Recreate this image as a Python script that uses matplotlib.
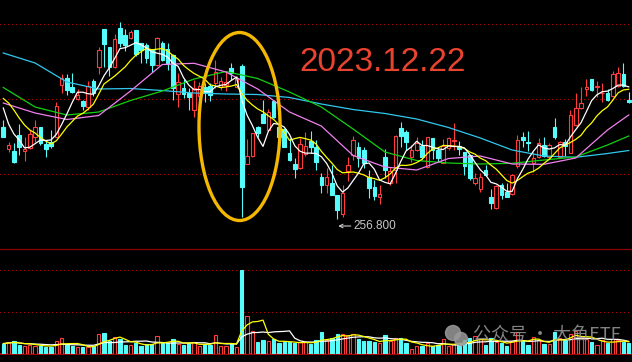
import matplotlib
matplotlib.use('Agg')
import numpy as np
import pandas as pd
import matplotlib.pyplot as plt
from matplotlib.patches import Ellipse
from matplotlib.transforms import offset_copy

# Dagsdata lest av fra bildet (omtrentlige verdier)
opens = [349.1, 326.8, 325.1, 340.8, 325.1, 327.5, 339.1, 348.5, 331.8, 334.1,
         339.1, 390.8, 397.5, 388.5, 376.5, 375.1, 368.5, 395.1, 409.1, 446.5,
         429.1, 408.5, 447.5, 440.8, 437.5, 445.8, 432.5, 430.8, 425.8, 410.8,
         432.5, 426.5, 420.8, 381.8, 387.5, 383.1, 365.8, 379.8, 388.5, 389.8,
         392.5, 389.1, 390.8, 407.5, 389.1, 409.8, 311.8, 319.8, 348.5, 361.8,
         345.8, 375.1, 349.1, 346.5, 322.8, 311.8, 307.8, 321.8, 335.1, 329.1,
         298.5, 290.8, 293.1, 280.8, 261.8, 305.1, 320.8, 329.1, 325.8, 299.1,
         289.1, 278.5, 318.5, 292.5, 305.8, 347.5, 344.1, 318.5, 325.8, 329.8,
         309.1, 337.5, 325.8, 313.1, 327.5, 335.1, 329.8, 324.1, 320.8, 293.1,
         286.5, 305.8, 279.1, 267.5, 290.8, 284.1, 281.8, 309.8, 338.5, 334.1,
         312.5, 319.1, 330.8, 319.1, 348.5, 319.1, 334.1, 323.1, 350.8, 367.5,
         386.5, 396.5, 389.1, 382.5, 383.1, 379.8, 389.8, 401.8, 375.8]
highs = [355.8, 334.1, 333.1, 351.8, 339.1, 345.8, 355.8, 349.1, 335.8, 345.8,
         374.1, 401.8, 401.8, 402.5, 386.5, 375.8, 395.1, 396.5, 429.1, 446.5,
         429.1, 441.8, 454.1, 446.5, 445.8, 445.8, 433.1, 432.5, 426.5, 438.5,
         435.1, 432.5, 421.8, 403.1, 396.5, 387.5, 395.8, 393.8, 393.1, 393.1,
         415.8, 399.1, 404.1, 412.5, 399.8, 411.8, 336.5, 343.1, 349.8, 375.8,
         366.5, 375.8, 353.8, 347.5, 337.8, 317.8, 337.8, 344.1, 345.1, 335.8,
         302.5, 307.8, 310.8, 280.8, 290.8, 318.8, 339.8, 334.1, 328.8, 305.8,
         295.8, 290.8, 326.8, 309.1, 340.8, 354.1, 345.8, 330.8, 339.1, 335.8,
         339.1, 337.5, 328.5, 336.5, 338.5, 352.5, 335.1, 324.1, 320.8, 302.5,
         302.5, 310.8, 286.5, 290.8, 293.1, 293.1, 301.8, 340.8, 344.1, 344.8,
         324.1, 337.5, 338.5, 332.5, 357.5, 335.1, 336.5, 365.8, 382.5, 388.5,
         396.5, 396.5, 395.1, 393.1, 386.5, 405.1, 409.1, 412.5, 384.1]
lows = [338.5, 324.1, 313.1, 320.8, 315.1, 326.5, 334.1, 330.8, 318.5, 327.5,
        338.5, 383.1, 380.8, 383.1, 375.8, 365.8, 365.8, 379.8, 401.8, 408.8,
        399.8, 407.5, 429.1, 425.1, 436.5, 419.8, 412.5, 412.5, 404.1, 409.8,
        415.1, 405.8, 375.8, 369.1, 377.5, 365.8, 359.1, 375.8, 374.1, 375.1,
        387.5, 385.8, 385.1, 395.8, 387.5, 258.8, 311.8, 319.1, 338.5, 352.5,
        345.1, 357.5, 335.8, 328.5, 314.8, 297.8, 306.5, 319.8, 323.1, 305.8,
        283.1, 282.5, 280.8, 256.8, 258.8, 294.8, 315.8, 309.1, 307.5, 277.8,
        275.8, 271.8, 297.8, 290.8, 292.5, 329.1, 325.8, 314.1, 325.1, 316.5,
        307.5, 316.5, 314.1, 312.5, 325.8, 325.8, 320.8, 300.8, 295.8, 290.8,
        284.1, 299.8, 266.5, 266.5, 276.5, 278.5, 280.8, 307.8, 329.1, 325.1,
        304.1, 317.5, 318.5, 317.5, 336.5, 318.5, 319.8, 322.5, 349.8, 366.5,
        379.8, 385.1, 379.1, 374.1, 375.1, 379.1, 388.5, 388.5, 373.1]
closes = [338.5, 330.8, 314.1, 329.1, 327.1, 341.8, 348.5, 332.5, 326.5, 329.8,
          369.8, 397.5, 385.8, 384.1, 380.8, 369.8, 389.8, 383.1, 425.8, 431.8,
          409.1, 436.5, 432.5, 430.8, 443.8, 421.8, 425.8, 417.5, 410.8, 437.5,
          415.8, 411.8, 387.5, 394.1, 381.8, 378.5, 387.8, 389.8, 382.5, 380.8,
          404.1, 395.1, 394.1, 402.5, 397.5, 289.1, 319.8, 342.5, 343.1, 352.5,
          364.1, 359.1, 339.1, 329.1, 315.8, 306.8, 331.8, 329.8, 329.1, 314.1,
          290.8, 298.5, 280.8, 265.8, 282.8, 310.8, 335.8, 317.5, 312.5, 287.5,
          279.8, 281.8, 305.8, 305.1, 339.8, 339.8, 334.1, 325.8, 333.1, 319.1,
          339.1, 325.8, 317.5, 329.8, 337.5, 335.8, 326.5, 309.8, 297.5, 297.5,
          299.1, 300.8, 272.5, 289.8, 280.8, 278.5, 300.8, 335.8, 335.8, 332.5,
          317.5, 333.1, 319.8, 330.8, 338.5, 334.1, 329.8, 360.8, 367.5, 373.1,
          388.8, 385.8, 389.8, 383.1, 375.8, 401.8, 403.1, 389.8, 374.1]
volumes = [10.7, 12, 13, 9.7, 8, 9.7, 8.7, 8.7, 7, 7,
           13, 16, 9.7, 8, 7, 7, 7.3, 8, 20, 21,
           13, 17, 15, 9, 9, 11, 8, 10, 10, 18,
           11, 11, 15, 10, 9, 11, 12, 8, 10, 9,
           19, 8, 8, 10, 7, 84, 38, 23, 12, 14,
           13, 15, 11, 12, 12, 11, 12, 12, 10.7, 14,
           22, 14.7, 16, 20, 20.7, 19.7, 20.7, 15, 13, 13,
           12, 11, 19, 13, 16.7, 16, 11, 5, 8, 8,
           11, 8, 9, 15, 8, 10, 10.7, 14, 16, 18,
           15, 9, 16, 12, 11, 8, 13, 22, 14, 9,
           17, 14, 10, 10, 22, 16, 14, 20, 23, 16,
           15, 12, 9, 14, 11, 15, 14, 12, 11]

# Glidende snitt som starter før det synlige vinduet, lest av bildet
ma5_head = [367.8, 351.8, 341.8, 335.8]
ma10_head = [377.3, 372.8, 365.8, 357.8, 350.8, 345.8, 342.8, 338.3, 334.8]
ma_idx = [0, 6, 12, 18, 24, 30, 36, 42, 48, 54, 60, 66, 72, 78, 84, 90, 96, 102, 108, 114, 118]
ma20 = [372.8, 362.8, 356.3, 360.3, 384.8, 411.3, 412.5, 403.8, 386.8, 363.8, 349.8,
        320.3, 308.8, 305.8, 317.3, 319.8, 311.8, 311.5, 317.8, 345.8, 360.8]
ma30 = [388.3, 368.8, 360.8, 363.8, 375.3, 384.8, 396.8, 404.3, 397.3, 383.8, 368.8,
        346.8, 323.8, 315.3, 312.8, 311.8, 312.5, 315.8, 318.8, 330.8, 339.8]
ma60 = [422.8, 412.8, 393.8, 386.8, 387.3, 385.3, 382.8, 381.8, 381.3, 378.3, 371.8,
        366.3, 362.3, 356.8, 348.3, 337.8, 325.8, 319.8, 318.5, 322.3, 325.3]

price_grid = [451.5, 376.5, 301.5]
vol_grid = [42, 84]
date_label = "2023.12.22"

RED = '#FF3C3C'
CYAN = '#54FCFC'
GRID = '#B00000'

o = np.array(opens)
h = np.array(highs)
l = np.array(lows)
c = np.array(closes)
v = np.array(volumes)
x = np.arange(len(c))
up = c >= o

ma5 = pd.Series(c).rolling(5).mean().values
ma5[:len(ma5_head)] = ma5_head
ma10 = pd.Series(c).rolling(10).mean().values
ma10[:len(ma10_head)] = ma10_head
vma5 = pd.Series(v).rolling(5, min_periods=1).mean().values
vma10 = pd.Series(v).rolling(10, min_periods=1).mean().values

fig = plt.figure(figsize=(6.32, 3.62), dpi=100, facecolor='black')
ax1 = fig.add_axes([0, 0.3113, 1, 0.6887], facecolor='black')
ax2 = fig.add_axes([0, 0.0213, 1, 0.29], facecolor='black')
xlim = (-0.623, 118.62)

# Kursvindu
for y in price_grid:
    ax1.axhline(y, color=GRID, lw=0.72, ls=(0, (1, 3)), antialiased=False, zorder=1)
ax1.vlines(x, l, h, colors=np.where(up, RED, CYAN), lw=0.8, zorder=2)
ax1.bar(x, np.maximum(np.abs(c - o), 0.8), bottom=np.minimum(o, c), width=0.68,
        color=np.where(up, 'black', CYAN), edgecolor=np.where(up, RED, CYAN),
        linewidth=0.8, zorder=3)
ax1.plot(ma_idx, ma60, color='#30C8EE', lw=0.9, zorder=4)
ax1.plot(ma_idx, ma30, color='#10D010', lw=0.9, zorder=4)
ax1.plot(ma_idx, ma20, color='#F080F0', lw=0.9, zorder=4)
ax1.plot(x, ma10, color='#FFFF00', lw=0.9, zorder=4)
ax1.plot(x, ma5, color='white', lw=0.9, zorder=4)

low_i = int(np.argmin(l))
tr = offset_copy(ax1.transData, fig=fig, x=1, y=-7, units='dots')
ax1.annotate(f'{l[low_i]:.3f}', xy=(x[low_i], l[low_i]), xycoords=tr,
             xytext=(11, 0), textcoords='offset points', va='center', ha='left',
             color='#C8C8C8', fontsize=8.5, family='Liberation Sans',
             arrowprops=dict(arrowstyle='->,head_length=0.3,head_width=0.15',
                             color='#C8C8C8', lw=0.8, shrinkA=0, shrinkB=0))

ax1.add_patch(Ellipse((44.57, 349.3), 15.3, 188, fill=False, edgecolor='#F5B800',
                      lw=2.4, zorder=6))
ax1.text(0.605, 0.751, date_label, transform=ax1.transAxes, ha='center', va='center',
         color='#E8432E', fontsize=24, family='Liberation Sans', zorder=7)

ax1.set_xlim(*xlim)
ax1.set_ylim(226.5, 475.8)
ax1.set_axis_off()

# Volumvindu
for y in vol_grid:
    ax2.axhline(y, color=GRID, lw=0.72, ls=(0, (1, 3)), antialiased=False, zorder=1)
ax2.bar(x, v, width=0.62, color=np.where(up, 'black', CYAN),
        edgecolor=np.where(up, RED, CYAN), linewidth=0.8, zorder=3)
ax2.plot(x, vma10, color='white', lw=0.9, zorder=4)
ax2.plot(x, vma5, color='#FFFF00', lw=0.9, zorder=4)
ax2.set_xlim(*xlim)
ax2.set_ylim(0, 105)
ax2.set_xticks([])
ax2.set_yticks([])
for side in ['left', 'right']:
    ax2.spines[side].set_visible(False)
ax2.spines['top'].set_color('#8B0000')
ax2.spines['top'].set_linewidth(0.9)
ax2.spines['bottom'].set_color('#C00000')
ax2.spines['bottom'].set_linewidth(1.2)

# Vannmerke
W, H = 632, 362
for cx, cy, r in [(453, 333, 7.5), (461, 339, 6.5)]:
    fig.add_artist(Ellipse((cx / W, 1 - cy / H), 2 * r / W, 2 * r / H,
                           transform=fig.transFigure, color='#9A9A9A', alpha=0.85,
                           zorder=10))
fig.text(473 / W, 1 - 336 / H, '公众号 · 大鱼ETF', ha='left', va='center',
         color='#9A9A9A', alpha=0.85, fontsize=13,
         family=['Noto Sans CJK SC', 'DejaVu Sans'], zorder=10)

fig.savefig('out.png', dpi=100, facecolor='black')
